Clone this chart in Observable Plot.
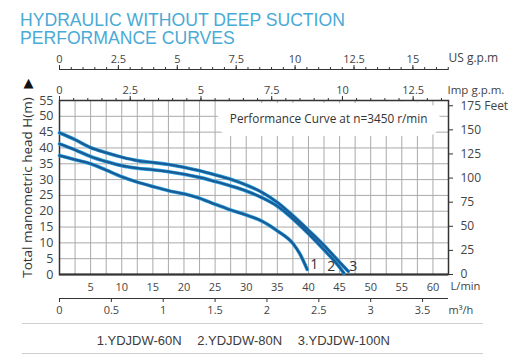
<!DOCTYPE html>
<html>
<head>
<meta charset="utf-8">
<script src="https://cdn.jsdelivr.net/npm/d3@7"></script>
<script src="https://cdn.jsdelivr.net/npm/@observablehq/plot@0.6"></script>
<style>
  body { margin: 0; background: #fff; }
  #wrap { position: relative; width: 518px; height: 362px; overflow: hidden; background: #fff; }
  #title { position: absolute; left: 20px; top: 12.3px; font-family: "Liberation Sans", Arial, sans-serif;
           font-size: 17.6px; line-height: 17.7px; color: #4aaad6; white-space: nowrap; }
  #chart { position: absolute; left: 0; top: 48px; }
  #legend { position: absolute; left: 22px; top: 323px; width: 461px; height: 29px;
            border-top: 1px solid #cfcfcf; border-bottom: 1px solid #cfcfcf;
            font-family: "Liberation Sans", Arial, sans-serif; font-size: 13px; color: #3c3c3c; }
  #legend .row { position: absolute; left: 74.7px; top: 9px; display: flex; gap: 15.5px; white-space: nowrap; line-height: 15px; }
</style>
</head>
<body>
<div id="wrap">
  <div id="title">HYDRAULIC WITHOUT DEEP SUCTION<br>PERFORMANCE CURVES</div>
  <div id="chart"></div>
  <div id="legend"><div class="row" id="legendRow"></div></div>
</div>
<script>
// ---- unit conversions ----
const FT_PER_M = 3.28084;
const LPM_PER_USGPM = 3.78541;
const LPM_PER_IMPGPM = 4.54609;
const LPM_PER_M3H = 1000 / 60;

// ---- chart values (flow in L/min, head in m) ----
const flow1 = [0, 2.5, 5, 7.5, 10, 12.5, 15, 17.5, 20, 22.5, 25, 27.5, 30, 32.5, 35, 37.5, 38.6, 39.8];
const head1 = [37.6, 36.3, 35.0, 33.0, 30.9, 29.2, 27.8, 26.5, 25.5, 24.1, 22.2, 20.4, 18.8, 16.9, 13.8, 9.8, 6.6, 1.6];
const flow2 = [0, 2.5, 5, 7.5, 10, 12.5, 15, 17.5, 20, 22.5, 25, 27.5, 30, 32.5, 35, 37.5, 40, 42.5, 45, 45.7];
const head2 = [41.3, 39.4, 37.3, 35.7, 34.4, 33.6, 33.1, 32.5, 31.7, 30.7, 29.4, 28.0, 26.4, 24.3, 21.6, 17.6, 12.9, 7.8, 2.3, 0.4];
const flow3 = [0, 2.5, 5, 7.5, 10, 12.5, 15, 17.5, 20, 22.5, 25, 27.5, 30, 32.5, 35, 37.5, 40, 42.5, 45, 46.4];
const head3 = [44.8, 42.6, 40.1, 38.5, 37.1, 36.0, 35.4, 34.8, 33.9, 32.8, 31.5, 30.1, 28.3, 26.0, 22.8, 18.6, 14.0, 9.2, 3.9, 1.0];

const curveNumbers = ["1", "2", "3"];
const models = ["1.YDJDW-60N", "2.YDJDW-80N", "3.YDJDW-100N"];

// ---- tick labels ----
const flowTicks = [5, 10, 15, 20, 25, 30, 35, 40, 45, 50, 55, 60];      // L/min
const m3hTicks = [0, 0.5, 1, 1.5, 2, 2.5, 3, 3.5];                       // m3/h
const usTicks = [0, 2.5, 5, 7.5, 10, 12.5, 15];                          // US g.p.m
const impTicks = [0, 2.5, 5, 7.5, 10, 12.5];                             // Imp g.p.m.
const headTicks = [0, 5, 10, 15, 20, 25, 30, 35, 40, 45, 50, 55];       // m
const feetTicks = [0, 25, 50, 75, 100, 125, 150, 175];                   // Feet
const flowDomain = [0, 62.5];
const headDomain = [0, 55];

const caption = "Performance Curve at n=3450 r/min";
const yTitle = "Total manometric head H(m)";

// ---- derived tables ----
const rows = [
  ...flow1.map((f, i) => ({curve: "1", flow: f, head: head1[i]})),
  ...flow2.map((f, i) => ({curve: "2", flow: f, head: head2[i]})),
  ...flow3.map((f, i) => ({curve: "3", flow: f, head: head3[i]}))
];
const ends = [
  {flow: flow1[flow1.length - 1], head: head1[head1.length - 1], label: curveNumbers[0]},
  {flow: flow2[flow2.length - 1], head: head2[head2.length - 1], label: curveNumbers[1]},
  {flow: flow3[flow3.length - 1], head: head3[head3.length - 1], label: curveNumbers[2]}
];
const fmt = v => String(Math.round(v * 100) / 100);
const usMinor = d3.range(0, flowDomain[1] / LPM_PER_USGPM + 1e-9, 0.5).map(u => u * LPM_PER_USGPM);
const impMinor = d3.range(0, flowDomain[1] / LPM_PER_IMPGPM + 1e-9, 0.5).map(u => u * LPM_PER_IMPGPM);
const gridFlow = d3.range(2.5, flowDomain[1], 2.5);
const gridHead = d3.range(5, headDomain[1], 5);

const ink = "#444";
const axisInk = "#333";
const mid = {textAnchor: "middle", lineAnchor: "middle"};
const startMid = {textAnchor: "start", lineAnchor: "middle"};

const chart = Plot.plot({
  width: 518,
  height: 270,
  marginTop: 52,
  marginBottom: 44,
  marginLeft: 59,
  marginRight: 70,
  style: {fontFamily: "'Open Sans', sans-serif", fontSize: "11px", color: ink, background: "transparent"},
  x: {domain: flowDomain},
  y: {domain: headDomain},
  marks: [
    // grid
    Plot.ruleX(gridFlow, {stroke: "#aaa", strokeWidth: 1}),
    Plot.ruleY(gridHead, {stroke: "#aaa", strokeWidth: 1}),
    // annotation with white box
    Plot.text([caption], {frameAnchor: "top-right", dx: -21, dy: 18.3, textAnchor: "end", lineAnchor: "middle",
      fontSize: 11.8, fill: "#333", stroke: "white", strokeWidth: 26, strokeLinejoin: "round", paintOrder: "stroke"}),
    // frame
    Plot.frame({stroke: axisInk, strokeWidth: 1.5}),
    Plot.ruleY([headDomain[0]], {stroke: axisInk, strokeWidth: 2.2}),
    // US gpm axis (top, offset)
    Plot.ruleY([headDomain[1]], {dy: -31, stroke: axisInk, strokeWidth: 1.2}),
    Plot.axisX(usMinor, {anchor: "top", dy: -31, tickSize: 3, fill: "none", stroke: axisInk, label: null}),
    Plot.axisX(usTicks.map(u => u * LPM_PER_USGPM), {anchor: "top", dy: -31, tickSize: 5, tickPadding: 2,
      tickFormat: v => fmt(v / LPM_PER_USGPM), fontSize: 11, fill: ink, stroke: axisInk, label: null}),
    // Imp gpm axis (top of frame)
    Plot.axisX(impMinor, {anchor: "top", tickSize: 3, fill: "none", stroke: axisInk, label: null}),
    Plot.axisX(impTicks.map(u => u * LPM_PER_IMPGPM), {anchor: "top", tickSize: 5, tickPadding: 2,
      tickFormat: v => fmt(v / LPM_PER_IMPGPM), fontSize: 11, fill: ink, stroke: axisInk, label: null}),
    // L/min axis
    Plot.axisX(flowTicks, {anchor: "bottom", tickSize: 0, tickPadding: 8.5, fontSize: 11, fill: ink, label: null}),
    // m3/h axis
    Plot.ruleY([headDomain[0]], {dy: 24, stroke: axisInk, strokeWidth: 1.2}),
    Plot.axisX(m3hTicks.map(q => q * LPM_PER_M3H), {anchor: "bottom", dy: 24, tickSize: 4, tickPadding: 4,
      tickFormat: v => fmt(v / LPM_PER_M3H), fontSize: 11, fill: ink, stroke: axisInk, label: null}),
    // left head axis
    Plot.axisY(headTicks, {anchor: "left", tickSize: 0, tickPadding: 6, fontSize: 12.5, fill: ink, label: null}),
    // right feet axis
    Plot.axisY(feetTicks.map(f => f / FT_PER_M), {anchor: "right", tickSize: 4, tickPadding: 8, fontSize: 12,
      fill: ink, stroke: axisInk, label: null,
      tickFormat: v => {
        const f = Math.round(v * FT_PER_M);
        return f === feetTicks[feetTicks.length - 1] ? `${f} Feet` : `${f}`;
      }}),
    // unit labels
    Plot.text(["US g.p.m"], {frameAnchor: "top-right", dy: -42, ...startMid, fontSize: 12, fill: ink}),
    Plot.text(["Imp g.p.m."], {frameAnchor: "top-right", dx: -1, dy: -10.5, ...startMid, fontSize: 11.5, fill: ink}),
    Plot.text(["L/min"], {frameAnchor: "bottom-right", dx: 2, dy: 12, ...startMid, fontSize: 11.2, fill: ink}),
    Plot.text(["m³/h"], {frameAnchor: "bottom-right", dx: 0, dy: 36, ...startMid, fontSize: 11, fill: ink}),
    Plot.text([yTitle], {frameAnchor: "left", rotate: -90, dx: -32, ...mid, fontSize: 13.5, fill: "#333"}),
    Plot.text(["▲"], {frameAnchor: "top-left", dx: -31, dy: -17.5, ...mid, fontSize: 13, fill: "#111", fontFamily: "DejaVu Sans"}),
    // curves
    Plot.line(rows, {x: "flow", y: "head", z: "curve", stroke: "#2ba6e4", strokeWidth: 3.6, curve: "monotone-x"}),
    Plot.line(rows, {x: "flow", y: "head", z: "curve", stroke: "#1b5b95", strokeWidth: 2.3, curve: "monotone-x"}),
    // curve numbers
    Plot.text([ends[0]], {x: "flow", y: "head", text: "label", dx: 7, dy: -5, fontSize: 14, fill: "#333"}),
    Plot.text([ends[1]], {x: "flow", y: "head", text: "label", dx: -12.6, dy: -6.6, fontSize: 14, fill: "#333"}),
    Plot.text([ends[2]], {x: "flow", y: "head", text: "label", dx: 5, dy: -5, fontSize: 14, fill: "#333"})
  ]
});
document.getElementById("chart").appendChild(chart);

const row = document.getElementById("legendRow");
for (const m of models) {
  const s = document.createElement("span");
  s.textContent = m;
  row.appendChild(s);
}
</script>
</body>
</html>
